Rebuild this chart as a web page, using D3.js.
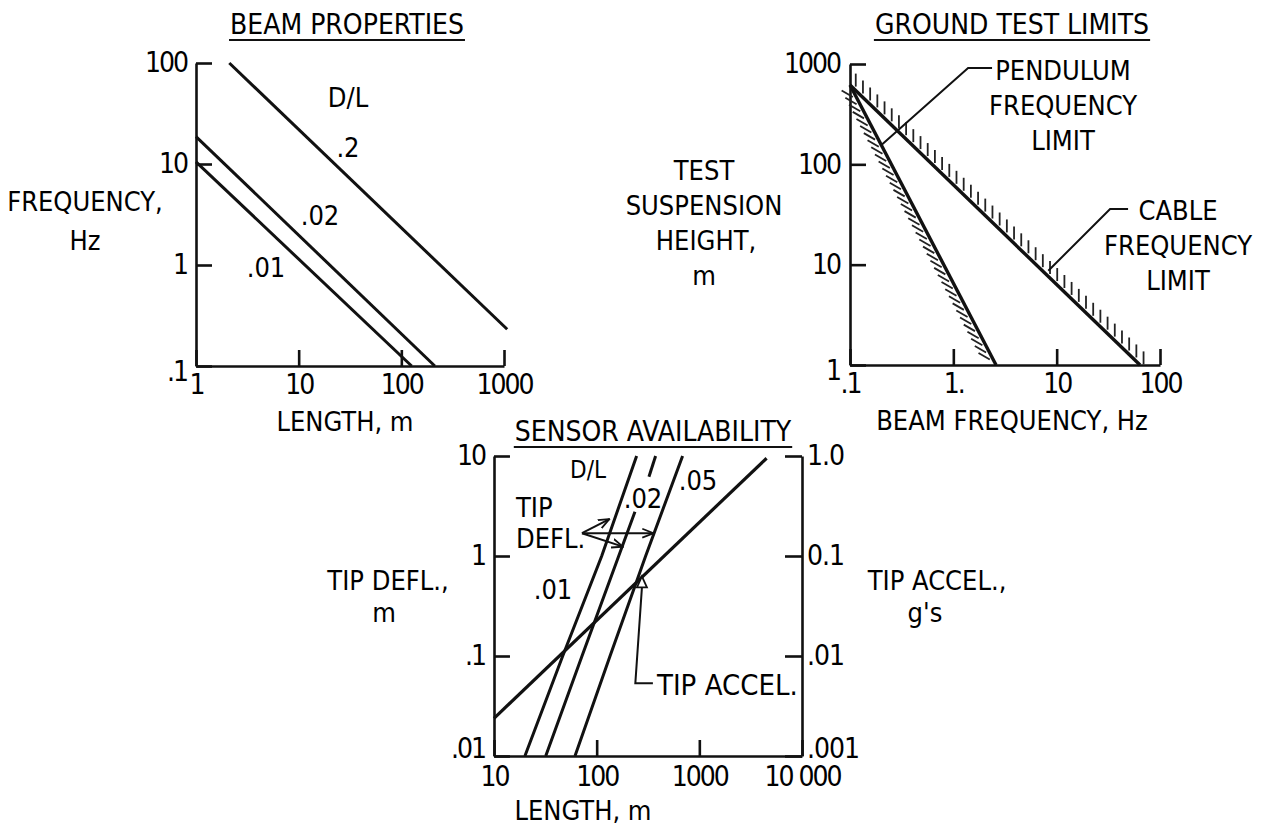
<!DOCTYPE html>
<html><head><meta charset="utf-8">
<script src="https://cdn.jsdelivr.net/npm/d3@7"></script>
<style>
html,body{margin:0;padding:0;background:#fff;}
svg{display:block;}
.t{font-family:"DejaVu Sans Condensed","DejaVu Sans",sans-serif;font-stretch:condensed;fill:#000;}
.num{font-family:"DejaVu Sans Condensed","DejaVu Sans",sans-serif;font-stretch:condensed;fill:#000;}
</style></head><body>
<svg id="c" width="1265" height="826"></svg>
<script>
// ---------------- DATA ----------------
// Beam properties: frequency (Hz) vs length (m) for D/L values
const beamDL = [".01", ".02", ".2"];
const beamLenStart = [1, 1, 2.11];
const beamFreqStart = [10.5, 18.7, 100];
const beamLenEnd = [126, 212, 1074];
const beamFreqEnd = [0.1, 0.1, 0.231];
const beamXTicks = [1, 10, 100, 1000];
const beamXLabels = ["1", "10", "100", "1000"];
const beamYTicks = [100, 10, 1, 0.1];
const beamYLabels = ["100", "10", "1", ".1"];

// Ground test limits: suspension height (m) vs beam frequency (Hz)
const groundNames = ["PENDULUM FREQUENCY LIMIT", "CABLE FREQUENCY LIMIT"];
const pendulumFreq = [0.1, 2.59];
const pendulumHeight = [617, 1];
const cableFreq = [0.1, 64.1];
const cableHeight = [617, 1];
const groundXTicks = [0.1, 1, 10, 100];
const groundXLabels = [".1", "1.", "10", "100"];
const groundYTicks = [1000, 100, 10, 1];
const groundYLabels = ["1000", "100", "10", "1"];

// Sensor availability: tip deflection (m) & tip accel (g's) vs length (m)
const sensorDL = [".01", ".02", ".05"];
const sensorDefl = [0.01, 0.1, 1, 10];
const sensorLen01 = [20, 46.7, 112, 245];
const sensorLen05 = [61.5, 135, 300, 687];
const sensorDefl02Lower = [0.01, 0.1, 1, 2.77];
const sensorLen02Lower = [31.9, 72, 164, 236];
const sensorDefl02Upper = [6.2, 10];
const sensorLen02Upper = [323, 375];
const tipAccelLen = [10, 4520];
const tipAccelG = [0.00238, 0.95];
const sensorXTicks = [10, 100, 1000, 10000];
const sensorXLabels = ["10", "100", "1000", "10 000"];
const sensorYTicks = [10, 1, 0.1, 0.01];
const sensorYLabels = ["10", "1", ".1", ".01"];
const sensorY2Ticks = [1, 0.1, 0.01, 0.001];
const sensorY2Labels = ["1.0", "0.1", ".01", ".001"];

// ---------------- DRAWING ----------------
const svg = d3.select("#c");
const INK = "#111";
const FS = 27;

function txt(x, y, s, anchor, size, cls) {
  return svg.append("text").attr("class", cls || "t").attr("x", x).attr("y", y)
    .attr("text-anchor", anchor || "middle").style("font-size", (size || FS) + "px").text(s);
}
function title(x, y, s) {
  const t = txt(x, y, s, "middle", 28);
  const w = t.node().getComputedTextLength();
  svg.append("line").attr("x1", x - w / 2 - 1).attr("x2", x + w / 2 + 1)
    .attr("y1", y + 6).attr("y2", y + 6).attr("stroke", INK).attr("stroke-width", 2);
}
function styleAxis(g, size, ls) {
  g.attr("font-family", null).attr("font-size", null);
  g.selectAll(".domain").attr("stroke", INK).attr("stroke-width", 2.6);
  g.selectAll(".tick line").attr("stroke", INK).attr("stroke-width", 2.6);
  g.selectAll(".tick text").attr("class", "num").attr("fill", INK)
    .style("font-size", size + "px").style("letter-spacing", (ls == null ? -2 : ls) + "px");
  return g;
}
function makeAxis(gen, vals, labels, len, pad) {
  return gen.tickValues(vals).tickFormat((d, i) => labels[i])
    .tickSize(-len).tickSizeOuter(0).tickPadding(pad);
}
const line = (xs, ys) => d3.line().x(d => xs(d[0])).y(d => ys(d[1]));

// ===== Chart A: Beam properties =====
const xA = d3.scaleLog().domain([1, 1000]).range([196, 504]);
const yA = d3.scaleLog().domain([0.1, 100]).range([366, 63]);
const gAy = styleAxis(svg.append("g").attr("transform", "translate(196,0)")
  .call(makeAxis(d3.axisLeft(yA), beamYTicks, beamYLabels, 16, 9)), 28);
gAy.selectAll(".tick text").filter(d => d === 0.1).attr("dy", "0.5em");
styleAxis(svg.append("g").attr("transform", "translate(0,366)")
  .call(makeAxis(d3.axisBottom(xA), beamXTicks, beamXLabels, 16, 8)), 28);
beamDL.forEach((dl, i) => {
  svg.append("path")
    .attr("d", line(xA, yA)([[beamLenStart[i], beamFreqStart[i]], [beamLenEnd[i], beamFreqEnd[i]]]))
    .attr("fill", "none").attr("stroke", INK).attr("stroke-width", 3);
});
title(347, 34, "BEAM PROPERTIES");
txt(348, 107, "D/L");
txt(348, 157, ".2");
txt(320, 225, ".02");
txt(266, 277, ".01");
txt(85, 211, "FREQUENCY,");
txt(85, 250, "Hz");
txt(345, 431, "LENGTH,  m");

// ===== Chart B: Ground test limits =====
const xB = d3.scaleLog().domain([0.1, 100]).range([850, 1160]);
const yB = d3.scaleLog().domain([1, 1000]).range([365, 64]);
styleAxis(svg.append("g").attr("transform", "translate(850,0)")
  .call(makeAxis(d3.axisLeft(yB), groundYTicks, groundYLabels, 16, 10)), 28)
  .selectAll(".tick text").filter(d => d === 1).attr("dy", "0.5em");
styleAxis(svg.append("g").attr("transform", "translate(0,365)")
  .call(makeAxis(d3.axisBottom(xB), groundXTicks, groundXLabels, 16, 8)), 28);

function hatch(p0, p1, fn, step, t0, extra) {
  const dx = p1[0] - p0[0], dy = p1[1] - p0[1];
  const L = Math.hypot(dx, dy), ux = dx / L, uy = dy / L;
  const segs = [];
  for (let t = t0; t <= L + extra; t += step) segs.push(fn(p0[0] + ux * t, p0[1] + uy * t, ux, uy));
  svg.append("g").selectAll("line").data(segs).join("line")
    .attr("x1", d => d[0]).attr("y1", d => d[1]).attr("x2", d => d[2]).attr("y2", d => d[3])
    .attr("stroke", "#222").attr("stroke-width", 1.8);
}
const pP0 = [xB(pendulumFreq[0]), yB(pendulumHeight[0])], pP1 = [xB(pendulumFreq[1]), yB(pendulumHeight[1])];
const cP0 = [xB(cableFreq[0]), yB(cableHeight[0])], cP1 = [xB(cableFreq[1]), yB(cableHeight[1])];
// cable: vertical hatch above line
hatch(cP0, cP1, (x, y) => [x, y - 4, x, y - 17], 10, 8, 14);
// pendulum: slanted hatch on lower-left side
hatch(pP0, pP1, (x, y, ux, uy) => {
  const nx = -uy, ny = ux; // left normal
  const ex = x + nx * 3, ey = y + ny * 3;
  const a = 30 * Math.PI / 180;
  return [ex - 13 * Math.cos(a), ey - 13 * Math.sin(a), ex, ey];
}, 8, 12, 0);
svg.append("path").attr("d", line(xB, yB)(pendulumFreq.map((f, i) => [f, pendulumHeight[i]])))
  .attr("fill", "none").attr("stroke", INK).attr("stroke-width", 3.4);
svg.append("path").attr("d", line(xB, yB)(cableFreq.map((f, i) => [f, cableHeight[i]])))
  .attr("fill", "none").attr("stroke", INK).attr("stroke-width", 3.4);
// leaders (data space)
const pendLeader = [[0.2, 155], [1.39, 912], [2.37, 912]];
const cableLeader = [[8.3, 8.7], [32.9, 35.8], [49.1, 35.8]];
[pendLeader, cableLeader].forEach(pts => svg.append("path").attr("d", line(xB, yB)(pts))
  .attr("fill", "none").attr("stroke", INK).attr("stroke-width", 2));
title(1012, 34, "GROUND TEST LIMITS");
txt(1063, 80, "PENDULUM");
txt(1063, 115, "FREQUENCY");
txt(1063, 150, "LIMIT");
txt(1178, 220, "CABLE");
txt(1178, 255, "FREQUENCY");
txt(1178, 290, "LIMIT");
txt(704, 180, "TEST");
txt(704, 215, "SUSPENSION");
txt(706, 250, "HEIGHT,");
txt(704, 285, "m");
txt(1012, 430, "BEAM FREQUENCY,  Hz");

// ===== Chart C: Sensor availability =====
const xC = d3.scaleLog().domain([10, 10000]).range([494, 802]);
const yC = d3.scaleLog().domain([0.01, 10]).range([756, 456]);
const yC2 = d3.scaleLog().domain([0.001, 1]).range([756, 456]);
styleAxis(svg.append("g").attr("transform", "translate(494,0)")
  .call(makeAxis(d3.axisLeft(yC), sensorYTicks, sensorYLabels, 16, 9)), 28)
  .selectAll(".tick text").filter(d => d === 0.01).attr("dy", "0.05em");
styleAxis(svg.append("g").attr("transform", "translate(802,0)")
  .call(makeAxis(d3.axisRight(yC2), sensorY2Ticks, sensorY2Labels, 17, 5)), 28, -1)
  .selectAll(".tick text").filter(d => d === 0.001).attr("dy", "0.05em");
styleAxis(svg.append("g").attr("transform", "translate(0,756)")
  .call(makeAxis(d3.axisBottom(xC), sensorXTicks, sensorXLabels, 16, 10)), 28);
const lC = line(xC, yC);
const drawC = pts => svg.append("path").attr("d", lC(pts)).attr("fill", "none")
  .attr("stroke", INK).attr("stroke-width", 3);
drawC(sensorDefl.map((d, i) => [sensorLen01[i], d]));
drawC(sensorDefl.map((d, i) => [sensorLen05[i], d]));
drawC(sensorDefl02Lower.map((d, i) => [sensorLen02Lower[i], d]));
drawC(sensorDefl02Upper.map((d, i) => [sensorLen02Upper[i], d]));
svg.append("path").attr("d", line(xC, yC2)(tipAccelLen.map((l, i) => [l, tipAccelG[i]])))
  .attr("fill", "none").attr("stroke", INK).attr("stroke-width", 3.2);

// arrow marker
svg.append("defs").append("marker").attr("id", "ah").attr("viewBox", "0 0 12 12")
  .attr("refX", 11).attr("refY", 6).attr("markerWidth", 12).attr("markerHeight", 12)
  .attr("markerUnits", "userSpaceOnUse").attr("orient", "auto")
  .append("path").attr("d", "M0,1.5 L11,6 L0,10.5").attr("fill", "none").attr("stroke", INK).attr("stroke-width", 1.8);
const deflFrom = [71.9, 1.69];
const deflTo = [[133, 2.34], [180, 1.24], [356, 1.69]];
deflTo.forEach(p => svg.append("line")
  .attr("x1", xC(deflFrom[0])).attr("y1", yC(deflFrom[1]))
  .attr("x2", xC(p[0])).attr("y2", yC(p[1]))
  .attr("stroke", INK).attr("stroke-width", 2).attr("marker-end", "url(#ah)"));
// tip accel pointer
const accelApex = [276, 0.0625];
const ax = xC(accelApex[0]), ay = yC2(accelApex[1]);
svg.append("path").attr("d", `M${ax},${ay} L${ax - 5},${ay + 11} L${ax + 5},${ay + 11} Z`)
  .attr("fill", "#fff").attr("stroke", INK).attr("stroke-width", 1.8);
const accelLeader = [[276, 0.00470], [238, 0.00533], [353, 0.00533]];
const accelLeaderPx = accelLeader.map(d => [xC(d[0]), yC2(d[1])]);
accelLeaderPx[0] = [ax, ay + 11];
svg.append("path").attr("d", d3.line()(accelLeaderPx)).attr("fill", "none")
  .attr("stroke", INK).attr("stroke-width", 2);

title(653, 441, "SENSOR AVAILABILITY");
txt(588, 478, "D/L", "middle", 24);
txt(643, 508, ".02");
txt(698, 490, ".05");
txt(553, 599, ".01");
txt(516, 517, "TIP", "start");
txt(516, 548, "DEFL.", "start");
txt(657, 695, "TIP ACCEL.", "start", 29);
txt(388, 590, "TIP DEFL.,");
txt(384, 622, "m");
txt(937, 590, "TIP ACCEL.,");
txt(925, 622, "g's");
txt(583, 820, "LENGTH,  m");
</script></body></html>
